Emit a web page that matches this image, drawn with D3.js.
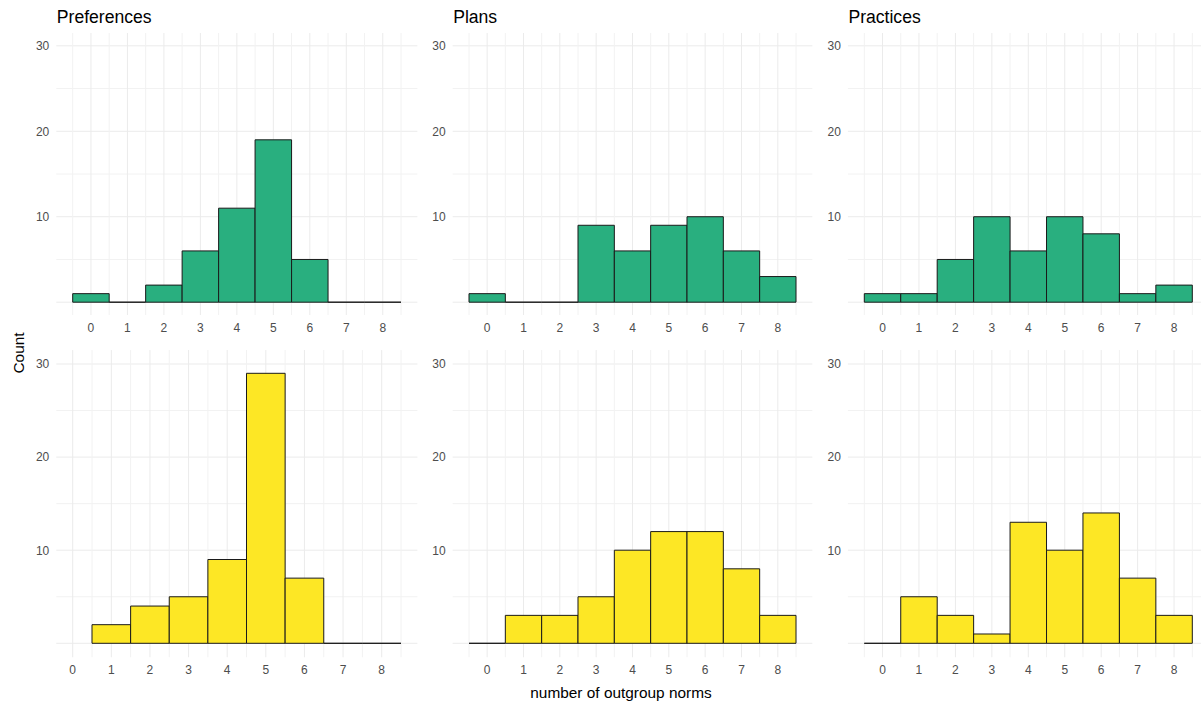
<!DOCTYPE html>
<html>
<head>
<meta charset="utf-8">
<script src="https://cdn.jsdelivr.net/npm/d3@7"></script>
<style>
  body { margin: 0; background: #fff; }
  svg { display: block; font-family: "Liberation Sans", Arial, sans-serif; }
</style>
</head>
<body>
<div id="chart"></div>
<script>
// data: counts per bin (bin centre = integer)
var facetTitles = ["Preferences", "Plans", "Practices"];
var binsFull = [0, 1, 2, 3, 4, 5, 6, 7, 8];
var binsFrom1 = [1, 2, 3, 4, 5, 6, 7, 8];
var xTicks = [0, 1, 2, 3, 4, 5, 6, 7, 8];
var yTicks = [10, 20, 30];

var prefTop = [1, 0, 2, 6, 11, 19, 5, 0, 0];
var plansTop = [1, 0, 0, 9, 6, 9, 10, 6, 3];
var practTop = [1, 1, 5, 10, 6, 10, 8, 1, 2];
var prefBottom = [2, 4, 5, 9, 29, 7, 0, 0];
var plansBottom = [0, 3, 3, 5, 10, 12, 12, 8, 3];
var practBottom = [0, 5, 3, 1, 13, 10, 14, 7, 3];

var green = "#29AF7F", yellow = "#FDE725";

var W = 1201, H = 713;
var svg = d3.select("#chart").append("svg")
    .attr("width", W)
    .attr("height", H);

// pixel positions of the data limits for each column / row
var cols = [
    { l: 72.7, r: 401 },
    { l: 469, r: 796 },
    { l: 864.3, r: 1192.3 }
];
var rows = [
    { y0: 302.2, y30: 45.8, fill: green, labelY: 332 },
    { y0: 643.3, y30: 364, fill: yellow, labelY: 674 }
];

var panels = [
    { row: 0, col: 0, bins: binsFull, counts: prefTop, xDomain: [-0.5, 8.5] },
    { row: 0, col: 1, bins: binsFull, counts: plansTop, xDomain: [-0.5, 8.5] },
    { row: 0, col: 2, bins: binsFull, counts: practTop, xDomain: [-0.5, 8.5] },
    { row: 1, col: 0, bins: binsFrom1, counts: prefBottom, xDomain: [0, 8.5] },
    { row: 1, col: 1, bins: binsFull, counts: plansBottom, xDomain: [-0.5, 8.5] },
    { row: 1, col: 2, bins: binsFull, counts: practBottom, xDomain: [-0.5, 8.5] }
];

panels.forEach(function (p) {
    var c = cols[p.col], r = rows[p.row];
    var x = d3.scaleLinear().domain(p.xDomain).range([c.l, c.r]);
    var y = d3.scaleLinear().domain([0, 30]).range([r.y0, r.y30]);

    // ggplot style 5% expansion
    var dx = (p.xDomain[1] - p.xDomain[0]) * 0.05;
    var px0 = x(p.xDomain[0] - dx), px1 = x(p.xDomain[1] + dx);
    var py0 = y(-1.5), py1 = y(31.5);

    var g = svg.append("g");

    // horizontal grid every 5
    g.selectAll(".hgrid")
        .data(d3.range(0, 31, 5))
        .enter().append("line")
        .attr("x1", px0).attr("x2", px1)
        .attr("y1", function (d) { return y(d); })
        .attr("y2", function (d) { return y(d); })
        .style("stroke", function (d) { return d % 10 === 0 ? "#ebebeb" : "#f2f2f2"; })
        .style("stroke-width", 1);

    // vertical grid every 0.5
    var vg = [];
    for (var v = p.xDomain[0]; v <= p.xDomain[1] + 1e-9; v += 0.5) vg.push(v);
    g.selectAll(".vgrid")
        .data(vg)
        .enter().append("line")
        .attr("y1", py0).attr("y2", py1)
        .attr("x1", function (d) { return x(d); })
        .attr("x2", function (d) { return x(d); })
        .style("stroke", function (d) { return Number.isInteger(d) ? "#ebebeb" : "#f2f2f2"; })
        .style("stroke-width", 1);

    // bars (paths so that empty bins still show a flat outline)
    g.selectAll(".bar")
        .data(p.counts)
        .enter().append("path")
        .attr("d", function (d, i) {
            var b = p.bins[i];
            return "M" + x(b - 0.5) + "," + y(0) +
                "V" + y(d) + "H" + x(b + 0.5) + "V" + y(0) + "Z";
        })
        .style("fill", r.fill)
        .style("stroke", "#1a1a1a")
        .style("stroke-width", 1);

    // x tick labels
    g.selectAll(".xlab")
        .data(xTicks)
        .enter().append("text")
        .attr("x", function (d) { return x(d); })
        .attr("y", r.labelY)
        .attr("text-anchor", "middle")
        .style("font-size", "12px")
        .style("fill", "#4d4d4d")
        .text(function (d) { return d; });

    // y tick labels
    g.selectAll(".ylab")
        .data(yTicks)
        .enter().append("text")
        .attr("x", px0 - 7)
        .attr("y", function (d) { return y(d) + 4.3; })
        .attr("text-anchor", "end")
        .style("font-size", "12px")
        .style("fill", "#4d4d4d")
        .text(function (d) { return d; });

    if (p.row === 0) {
        svg.append("text")
            .attr("x", px0 + 0.5)
            .attr("y", 23)
            .style("font-size", "17.6px")
            .style("fill", "#000")
            .text(facetTitles[p.col]);
    }
});

// axis titles
svg.append("text")
    .attr("x", 621)
    .attr("y", 698)
    .attr("text-anchor", "middle")
    .style("font-size", "15.4px")
    .style("fill", "#000")
    .text("number of outgroup norms");

svg.append("text")
    .attr("transform", "translate(23.5,353) rotate(-90)")
    .attr("text-anchor", "middle")
    .style("font-size", "15.4px")
    .style("fill", "#000")
    .text("Count");
</script>
</body>
</html>
